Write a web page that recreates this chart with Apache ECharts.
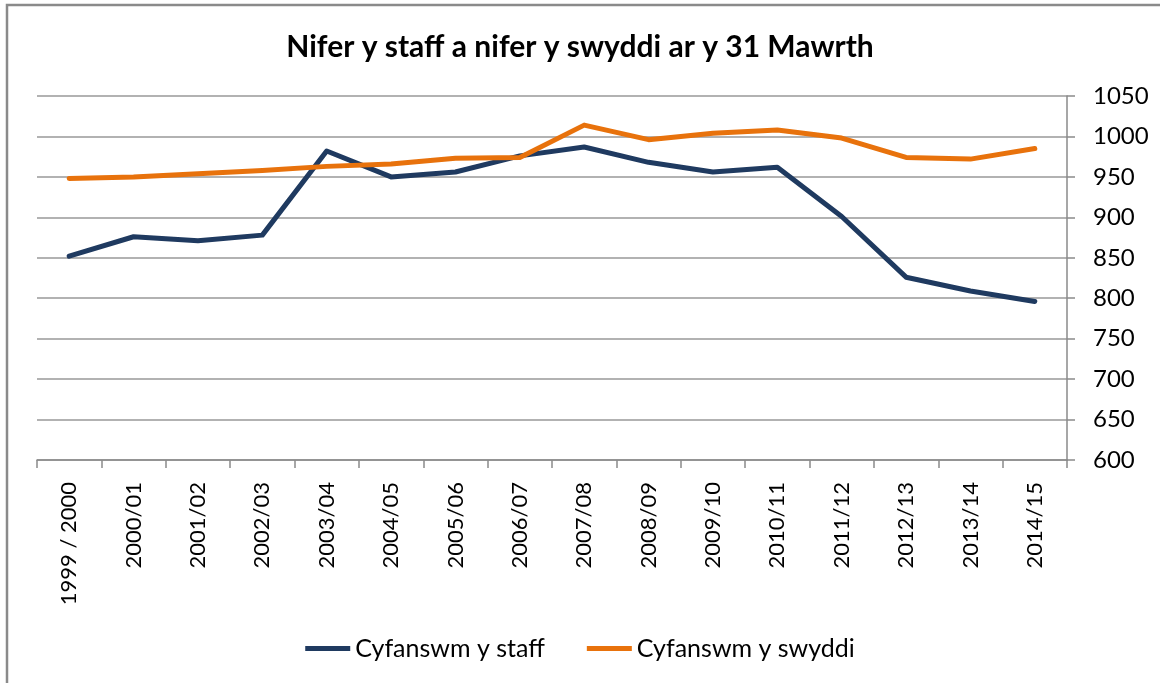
<!DOCTYPE html>
<html>
<head>
<meta charset="utf-8">
<title>Nifer y staff</title>
<script src="https://cdn.jsdelivr.net/npm/echarts@6/dist/echarts.min.js"></script>
<style>
  html, body { margin: 0; padding: 0; background: #fff; }
  #chart { width: 1160px; height: 683px; }
</style>
</head>
<body>
<div id="chart"></div>
<script>
  // blynyddoedd (categories)
  var years = ['1999 / 2000', '2000/01', '2001/02', '2002/03', '2003/04', '2004/05', '2005/06', '2006/07',
    '2007/08', '2008/09', '2009/10', '2010/11', '2011/12', '2012/13', '2013/14', '2014/15'];
  // Cyfanswm y staff
  var staff = [852, 876, 871, 878, 982, 950, 956, 976, 987, 968, 956, 962, 901, 826, 809, 796];
  // Cyfanswm y swyddi
  var swyddi = [948, 950, 954, 958, 963, 966, 973, 974, 1014, 996, 1004, 1008, 998, 974, 972, 985];
  var yMin = 600, yMax = 1050, yStep = 50;

  var myChart = echarts.init(document.getElementById('chart'));
  var font = 'Lato, "Open Sans", sans-serif';

  var option = {
    animation: false,
    title: {
      text: 'Nifer y staff a nifer y swyddi ar y 31 Mawrth',
      left: 'center',
      top: 27,
      textStyle: { fontFamily: font, fontSize: 30, fontWeight: 'bold', color: '#000' }
    },
    graphic: [{
      type: 'rect',
      shape: { x: 7, y: 5, width: 1200, height: 720 },
      style: { fill: 'none', stroke: '#8a8a8a', lineWidth: 2.5 },
      silent: true
    }],
    grid: { left: 37, right: 93, top: 96, bottom: 223 },
    legend: {
      data: ['Cyfanswm y staff', 'Cyfanswm y swyddi'],
      bottom: 17,
      left: 'center',
      icon: 'rect',
      itemWidth: 45,
      itemHeight: 5,
      itemGap: 42,
      textStyle: { fontFamily: font, fontSize: 25, color: '#000' }
    },
    xAxis: {
      type: 'category',
      data: years,
      boundaryGap: true,
      axisLine: { lineStyle: { color: '#8a8a8a', width: 1.5 } },
      axisTick: { show: true, interval: 0, length: 8, lineStyle: { color: '#8a8a8a', width: 1.5 } },
      axisLabel: { interval: 0, rotate: 90, margin: 22, fontFamily: font, fontSize: 22, color: '#000' }
    },
    yAxis: {
      type: 'value',
      position: 'right',
      min: yMin,
      max: yMax,
      interval: yStep,
      axisLine: { show: true, lineStyle: { color: '#8a8a8a', width: 1.5 } },
      axisTick: { show: true, length: 8, lineStyle: { color: '#8a8a8a', width: 1.5 } },
      axisLabel: {
        margin: 26, fontFamily: font, fontSize: 24, color: '#000',
        formatter: function (v) { return String(v); }
      },
      splitLine: { show: true, lineStyle: { color: '#999', width: 1.5 } }
    },
    series: [{
      name: 'Cyfanswm y staff',
      type: 'line',
      data: staff,
      symbol: 'none',
      lineStyle: { color: '#1F3A60', width: 5, cap: 'round', join: 'round' },
      itemStyle: { color: '#1F3A60' }
    }, {
      name: 'Cyfanswm y swyddi',
      type: 'line',
      data: swyddi,
      symbol: 'none',
      lineStyle: { color: '#E8720C', width: 5, cap: 'round', join: 'round' },
      itemStyle: { color: '#E8720C' }
    }]
  };

  myChart.setOption(option);
</script>
</body>
</html>
